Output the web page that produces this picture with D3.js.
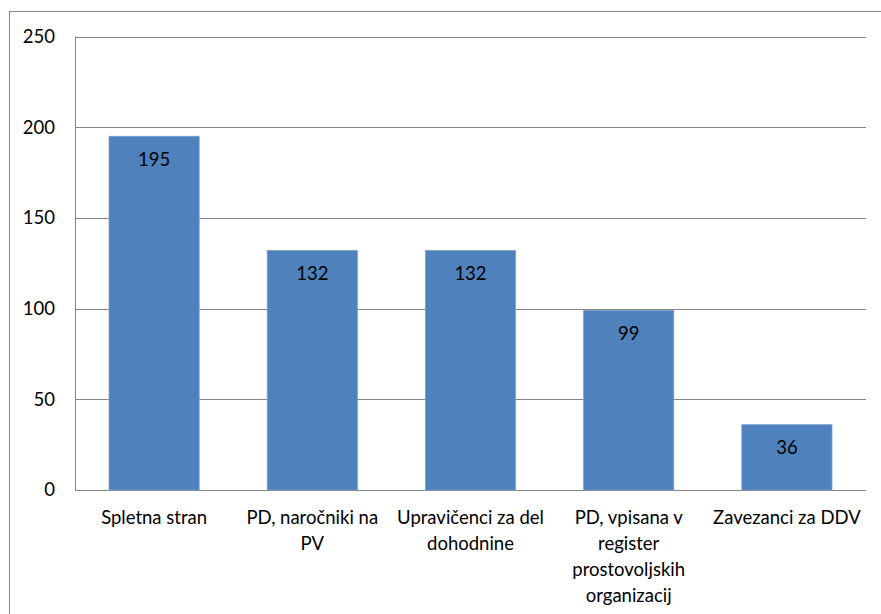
<!DOCTYPE html>
<html><head><meta charset="utf-8">
<script src="https://cdn.jsdelivr.net/npm/d3@7"></script>
<style>body{margin:0;background:#fff;}svg{display:block;}</style>
</head><body>
<svg id="c" width="881" height="614"></svg>
<script>
const categories = [
  ["Spletna stran"],
  ["PD, naročniki na", "PV"],
  ["Upravičenci za del", "dohodnine"],
  ["PD, vpisana v", "register", "prostovoljskih", "organizacij"],
  ["Zavezanci za DDV"]
];
const values = [195, 132, 132, 99, 36];
const yTicks = [0, 50, 100, 150, 200, 250];

const svg = d3.select("#c");
const font = "Lato, 'Open Sans', sans-serif";
const fs = 18.5;
const m = {left: 75, top: 36.5, right: 866, bottom: 490};

svg.append("rect").attr("x", 9.5).attr("y", 11.5).attr("width", 900).attr("height", 700)
  .attr("fill", "none").attr("stroke", "#898989").attr("stroke-width", 1);

const x = d3.scaleBand().domain(d3.range(values.length)).range([m.left, m.right]).paddingInner(0.43).paddingOuter(0.215);
const y = d3.scaleLinear().domain([0, 250]).range([m.bottom, m.top]);

svg.append("g").selectAll("line").data(yTicks).join("line")
  .attr("x1", m.left).attr("x2", m.right)
  .attr("y1", d => Math.round(y(d)) + 0.5).attr("y2", d => Math.round(y(d)) + 0.5)
  .attr("stroke", "#868686").attr("stroke-width", 1);

svg.append("line").attr("x1", m.left + 0.5).attr("x2", m.left + 0.5)
  .attr("y1", m.top).attr("y2", m.bottom + 0.5).attr("stroke", "#868686");

svg.append("g").selectAll("text").data(yTicks).join("text")
  .attr("x", 55).attr("y", d => y(d)).attr("dy", "0.35em")
  .attr("text-anchor", "end").attr("font-family", font).attr("font-size", fs).attr("fill", "#000")
  .text(d => d);

svg.append("g").selectAll("rect").data(values).join("rect")
  .attr("x", (d, i) => x(i)).attr("width", x.bandwidth())
  .attr("y", d => y(d)).attr("height", d => y(0) - y(d))
  .attr("fill", "#4F81BD").attr("stroke", "#7A9FCF").attr("stroke-width", 0.8);

svg.append("g").selectAll("text").data(values).join("text")
  .attr("x", (d, i) => x(i) + x.bandwidth() / 2).attr("y", d => y(d) + 23).attr("dy", "0.35em")
  .attr("text-anchor", "middle").attr("font-family", font).attr("font-size", fs).attr("fill", "#000")
  .text(d => d);

const cat = svg.append("g").selectAll("text").data(categories).join("text")
  .attr("text-anchor", "middle").attr("font-family", font).attr("font-size", fs).attr("fill", "#000");
cat.each(function(lines, i) {
  d3.select(this).selectAll("tspan").data(lines).join("tspan")
    .attr("x", x(i) + x.bandwidth() / 2).attr("y", (l, j) => 518 + j * 25.8).attr("dy", "0.35em")
    .text(l => l);
});
</script>
</body></html>
